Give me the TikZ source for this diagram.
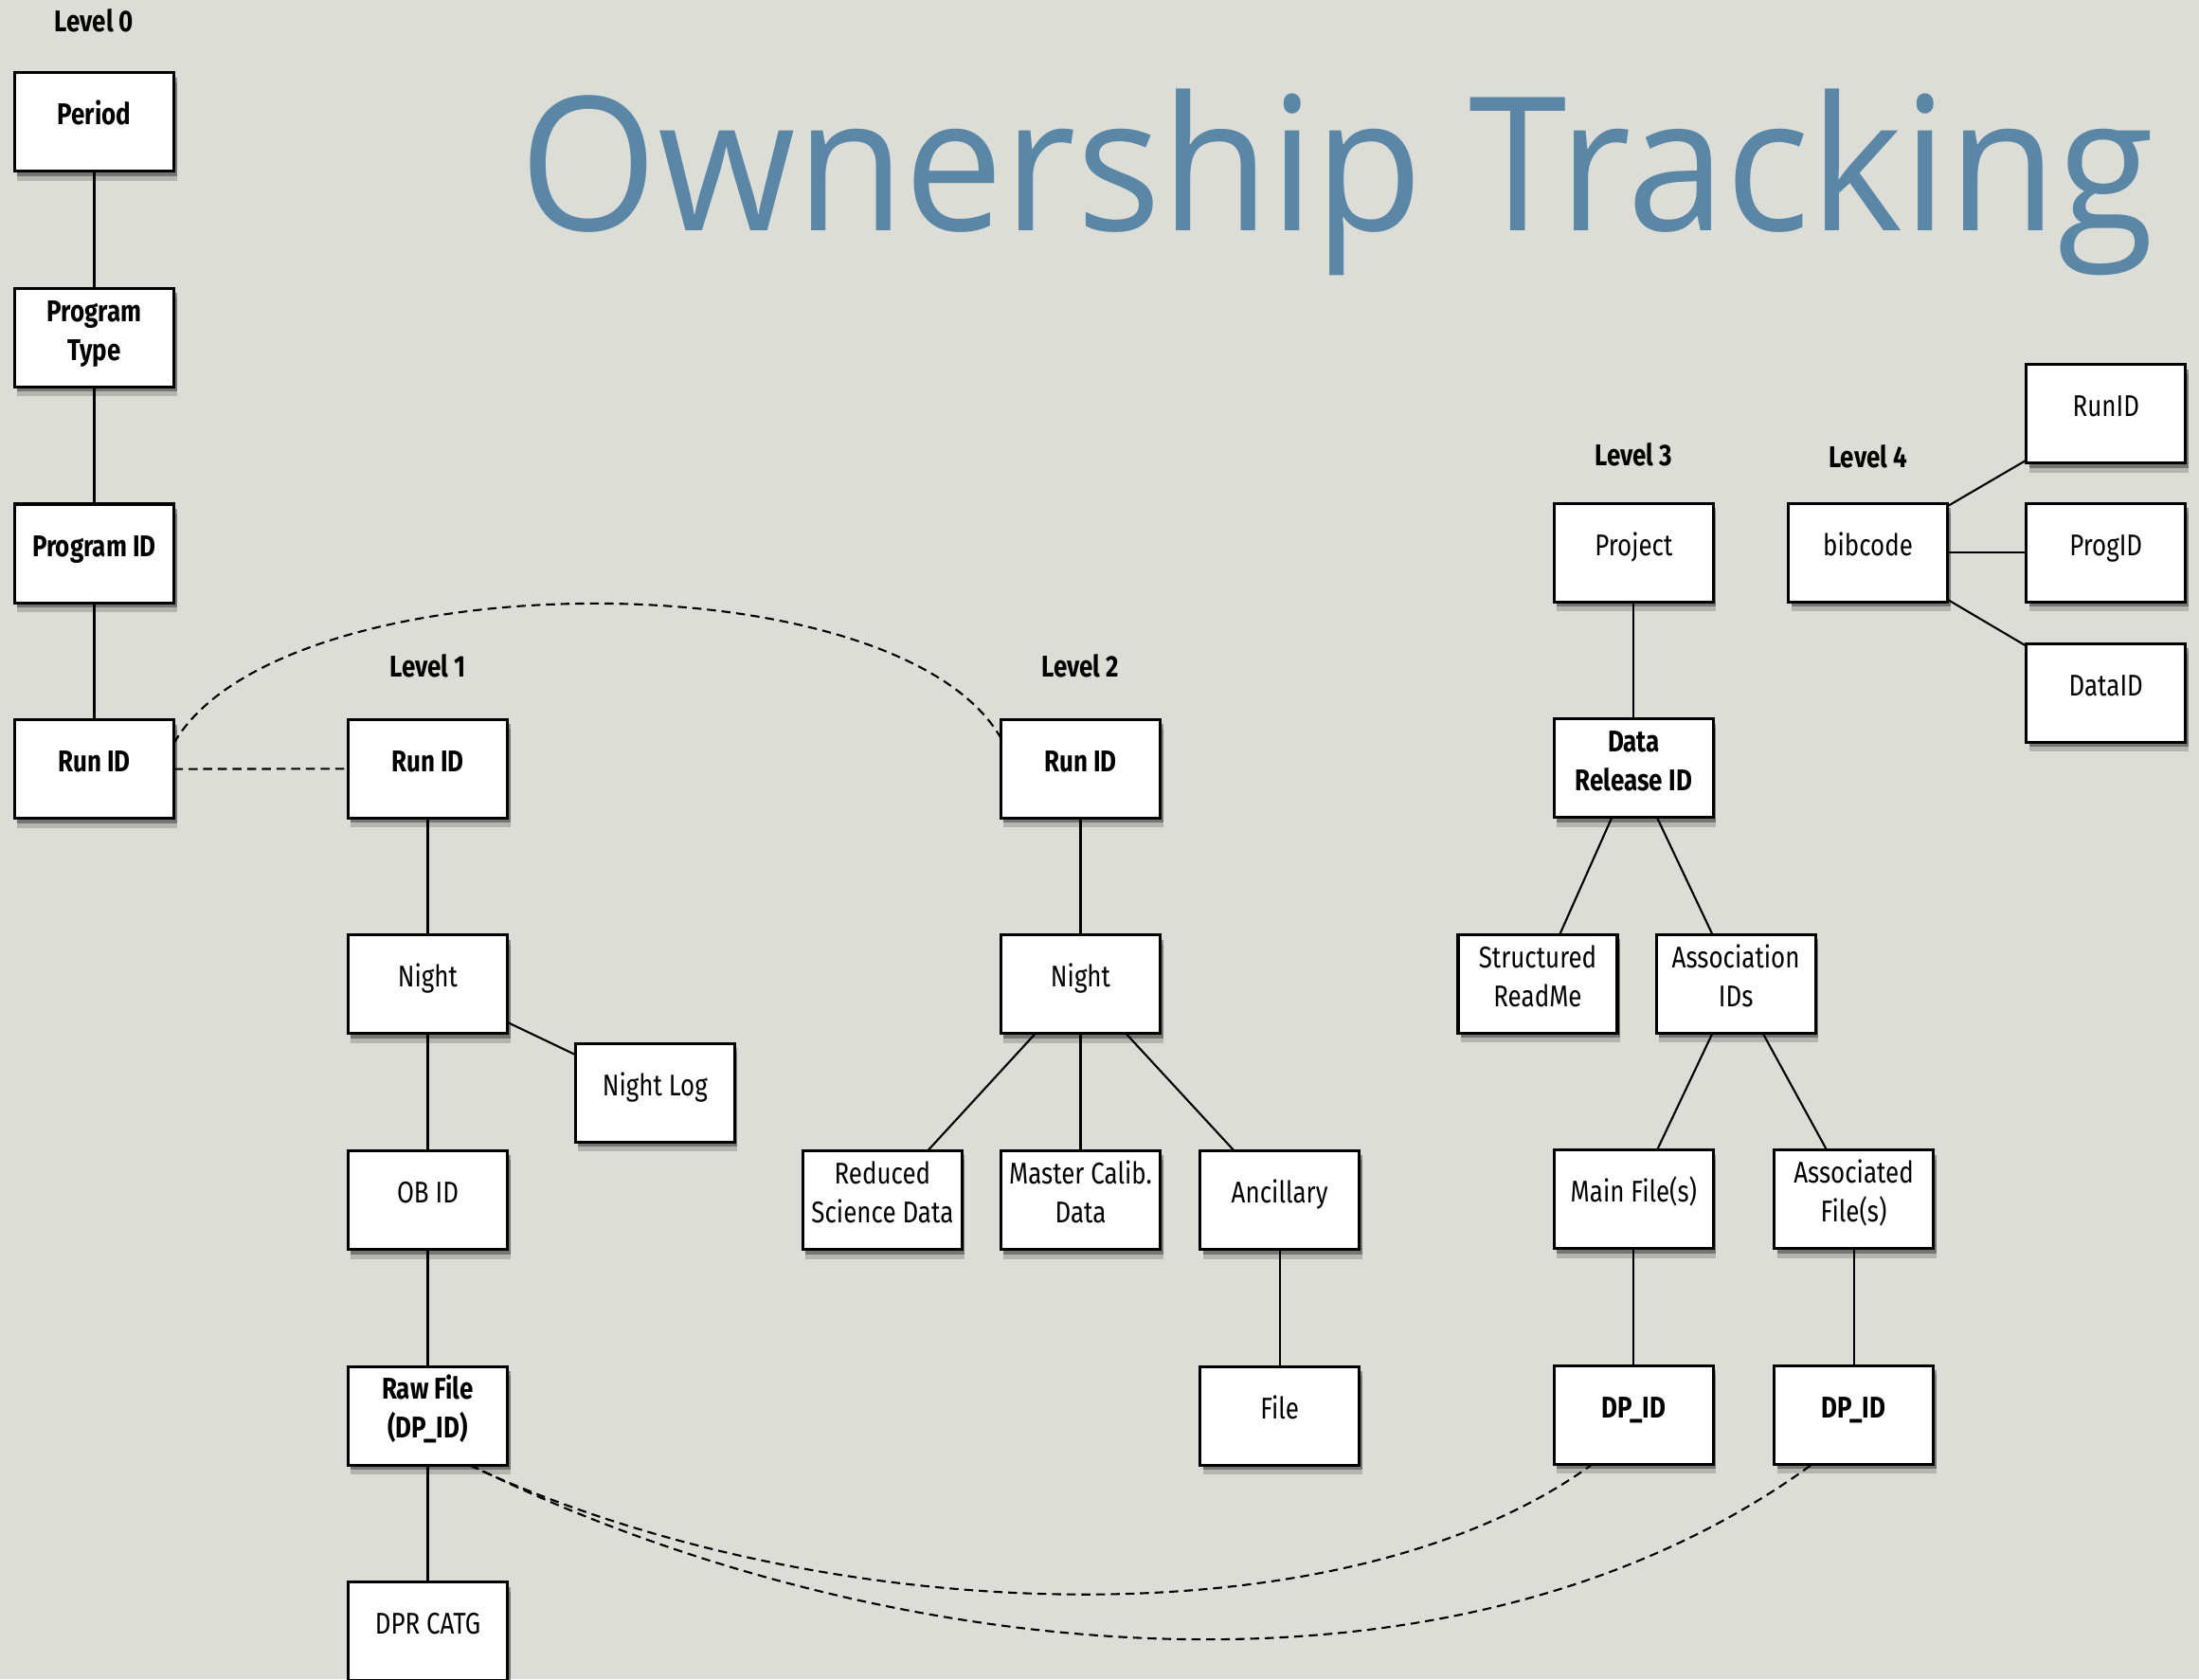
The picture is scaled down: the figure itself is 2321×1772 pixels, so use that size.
\documentclass[tikz,border=0pt]{standalone}
\usepackage{fontspec}
\setmainfont[FakeStretch=0.82]{Fira Sans}
\newfontfamily\titlefont[FakeStretch=0.95]{Open Sans}
\usepackage{tikz}
\usetikzlibrary{positioning}
\usetikzlibrary{shadows}

\definecolor{paper}{RGB}{221,221,215}
\definecolor{titleblue}{RGB}{91,135,167}
\newcommand{\twoln}[2]{\begin{tabular}{@{}c@{}}#1\\#2\end{tabular}}

\begin{document}
\begin{tikzpicture}[x=0.01cm,y=0.01cm,
  box/.style={draw,line width=0.9pt,fill=white,outer sep=0pt,inner sep=1pt,
    minimum width=1.68cm,minimum height=1.04cm,text height=6pt,text depth=4.3pt,
    font=\fontsize{9}{11.6}\selectfont,
    drop shadow={shadow xshift=0.3mm,shadow yshift=-0.5mm,fill=black,opacity=0.35},
    drop shadow={shadow xshift=0.3mm,shadow yshift=-1mm,fill=black,opacity=0.18}},
  boxb/.style={box,font=\fontsize{9}{11.6}\selectfont\bfseries},
  lvl/.style={inner sep=0pt,font=\fontsize{9}{11.6}\selectfont\bfseries},
  ln/.style={line width=0.6pt},
  dsh/.style={line width=0.6pt,dash pattern=on 2.7pt off 1.7pt},
  node distance=1.235cm]

\useasboundingbox (0,0) rectangle (2321,-1772);
\fill[paper] (0,0) rectangle (2321,-1772);

\node[anchor=base west,inner sep=0pt,text=titleblue,font=\titlefont\fontsize{56}{60}\selectfont] (title) at (548,-243.5) {Ownership Tracking};

% level 0
\node[boxb] (period) at (99.5,-128.8) {Period};
\node[boxb,below=of period] (ptype) {\twoln{Program}{Type}};
\node[boxb,below=of ptype] (pid) {Program ID};
\node[boxb,below=of pid] (run0) {Run ID};

% level 1
\node[boxb] (run1) at (451.5,-811.2) {Run ID};
\node[box,below=of run1] (night1) {Night};
\node[box,below=of night1] (ob) {OB ID};
\node[boxb,below=of ob] (raw) {\twoln{Raw File}{(DP\_ID)}};
\node[box,below=of raw] (dpr) {DPR CATG};
\node[box] (nightlog) at (691.3,-1153.1) {Night Log};

% level 2
\node[boxb] (run2) at (1140.5,-811.2) {Run ID};
\node[box,below=of run2] (night2) {Night};
\node[box,below=of night2] (master) {\twoln{Master Calib.}{Data}};
\node[box,left=0.41cm of master] (reduced) {\twoln{Reduced}{Science Data}};
\node[box,right=0.42cm of master] (ancil) {Ancillary};
\node[box,below=of ancil] (file) {File};

% level 3
\node[box] (project) at (1724.4,-583.2) {Project};
\node[boxb,below=of project] (release) {\twoln{Data}{Release ID}};
\node[box] (readme) at (1623,-1038.4) {\twoln{Structured}{ReadMe}};
\node[box,right=0.41cm of readme] (assoc) {\twoln{Association}{IDs}};
\node[box] (mainf) at (1724.4,-1265.6) {Main File(s)};
\node[box,right=0.64cm of mainf] (assocf) {\twoln{Associated}{File(s)}};
\node[boxb,below=of mainf] (dp1) {DP\_ID};
\node[boxb,below=of assocf] (dp2) {DP\_ID};

% level 4
\node[box] (bib) at (1971.6,-583.2) {bibcode};
\node[box,right=0.83cm of bib] (progid) {ProgID};
\node[box,above=0.425cm of progid] (runid) {RunID};
\node[box,below=0.44cm of progid] (dataid) {DataID};

\node[lvl,above=4.2mm of period] (lvl0) {Level 0};
\node[lvl,above=4.3mm of run1] (lvl1) {Level 1};
\node[lvl,above=4.3mm of run2] (lvl2) {Level 2};
\node[lvl,above=3.8mm of project] (lvl3) {Level 3};
\node[lvl,above=3.6mm of bib] (lvl4) {Level 4};

\draw[ln] (period) -- (ptype) -- (pid) -- (run0);
\draw[ln] (run1) -- (night1) -- (ob) -- (raw) -- (dpr);
\draw[ln] (night1) -- (nightlog);
\draw[ln] (run2) -- (night2);
\foreach \n in {reduced,master,ancil} \draw[ln] (night2) -- (\n);
\draw[ln] (ancil) -- (file);
\draw[ln] (project) -- (release);
\foreach \n in {readme,assoc} \draw[ln] (release) -- (\n);
\foreach \n in {mainf,assocf} \draw[ln] (assoc) -- (\n);
\draw[ln] (mainf) -- (dp1);
\draw[ln] (assocf) -- (dp2);
\foreach \n in {runid,progid,dataid} \draw[ln] (bib) -- (\n);

\draw[dsh] (run0) -- (run1);
\draw[dsh] (run0.18) .. controls +(111,193) and +(-111,193) .. (run2.159);
\draw[dsh] (raw.-50) .. controls +(367,-171) and +(-267,-194) .. (dp1.230);
\draw[dsh] (raw.-49) .. controls +(400,-199) and +(-397,-289) .. (dp2.230);
\end{tikzpicture}
\end{document}
